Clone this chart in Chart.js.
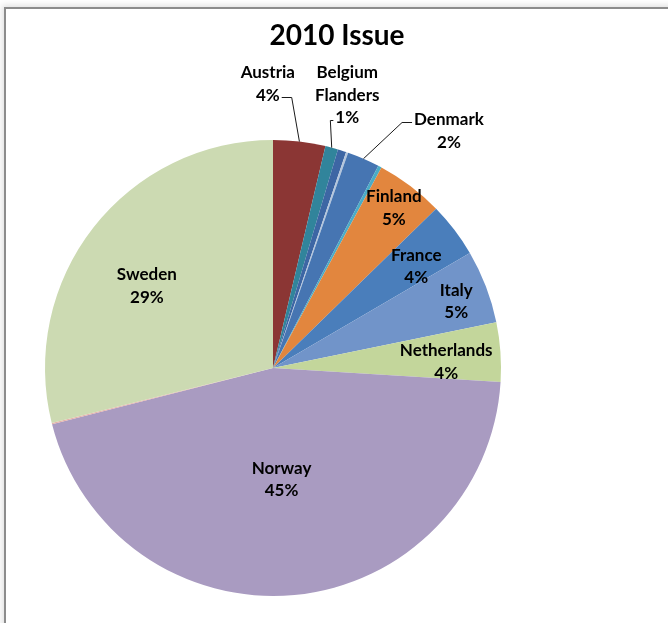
<!DOCTYPE html>
<html>
<head>
<meta charset="utf-8">
<title>2010 Issue</title>
<script src="https://cdn.jsdelivr.net/npm/chart.js@4"></script>
<style>
  body { margin: 0; background: #fff; }
  #wrap { position: relative; width: 668px; height: 623px; overflow: hidden; }
  #frame {
    position: absolute; left: 4px; top: 7px; width: 700px; height: 650px;
    border-top: 2px solid #8c8c8c; border-left: 2px solid #8c8c8c;
    box-shadow: -2px -2px 6px rgba(0, 0, 0, 0.12);
  }
  canvas { position: absolute; left: 0; top: 0; }
</style>
</head>
<body>
<div id="wrap">
  <div id="frame"></div>
  <canvas id="pie" width="668" height="623"></canvas>
</div>
<script>
const title = "2010 Issue";

// share per country, clockwise from 12 o'clock; unnamed slices carry no label
const countries = [
  "Austria", "Belgium Flanders", "", "", "Denmark", "", "Finland",
  "France", "Italy", "Netherlands", "Norway", "", "Sweden",
];
const shares = [3.7, 0.9, 0.6, 0.15, 2.3, 0.25, 4.8, 3.9, 5.2, 4.2, 45.1, 0.1, 28.9];
const sliceColors = [
  "#8b3634", "#31849b", "#3d66a4", "#b4c6dc", "#4675b2", "#4bacc6", "#e2863e",
  "#4a7ebb", "#7194c9", "#c3d69b", "#a99bc1", "#e6b1a9", "#ccdab2",
];

// where each label sits: r = fraction of radius, da = degrees off the slice middle
const labelPlacement = [
  { r: 1.245, da: -7.7, leader: { line: 1, side: "right", stub: 10 } },
  { r: 1.24, da: 0.3, leader: { line: 2, side: "left", stub: 3 } },
  null, null,
  { r: 1.295, da: 13.2, leader: { line: 0, side: "left", stub: 10 } },
  null,
  { r: 0.88, da: 0 },
  { r: 0.77, da: 2 },
  { r: 0.855, da: 1 },
  { r: 0.76, da: 2 },
  { r: 0.49, da: 1 },
  null,
  { r: 0.66, da: -5 },
];

const sliceLabels = {
  id: "sliceLabels",
  afterDatasetsDraw(chart, args, opts) {
    const ctx = chart.ctx;
    const meta = chart.getDatasetMeta(0);
    const total = shares.reduce((a, b) => a + b, 0);
    ctx.save();
    ctx.fillStyle = "#000";
    ctx.strokeStyle = "#1a1a1a";
    ctx.lineWidth = 1;
    ctx.textAlign = "center";
    ctx.textBaseline = "middle";
    ctx.font = "bold 17px Lato";
    meta.data.forEach((arc, i) => {
      const place = opts.placement[i];
      if (!place || !countries[i]) return;
      const { x, y, startAngle, endAngle, outerRadius } =
        arc.getProps(["x", "y", "startAngle", "endAngle", "outerRadius"], true);
      const mid = (startAngle + endAngle) / 2;
      const a = mid + place.da * Math.PI / 180;
      const cx = x + Math.cos(a) * outerRadius * place.r;
      const cy = y + Math.sin(a) * outerRadius * place.r;
      const pct = Math.round(shares[i] / total * 100);
      const lines = countries[i].split(" ").concat(pct + "%");
      const lh = opts.lineHeight;
      const top = cy - (lines.length - 1) * lh / 2;
      lines.forEach((t, k) => ctx.fillText(t, cx, top + k * lh));

      if (place.leader) {
        const k = place.leader.line;
        const ly = Math.round(top + k * lh + 2) + 0.5;
        const w = ctx.measureText(lines[k]).width;
        const dir = place.leader.side === "right" ? 1 : -1;
        const edge = cx + dir * (w / 2 + 2);
        const elbow = edge + dir * place.leader.stub;
        ctx.beginPath();
        ctx.moveTo(edge, ly);
        ctx.lineTo(elbow, ly);
        ctx.lineTo(x + Math.cos(mid) * outerRadius, y + Math.sin(mid) * outerRadius);
        ctx.stroke();
      }
    });

    // chart heading, centred over the whole framed area
    ctx.font = "bold 28px Lato";
    ctx.fillText(title, chart.width / 2 + 3, 36);
    ctx.restore();
  },
};

new Chart(document.getElementById("pie"), {
  type: "pie",
  data: {
    labels: countries,
    datasets: [{
      data: shares,
      backgroundColor: sliceColors,
      borderWidth: 0,
    }],
  },
  options: {
    responsive: false,
    animation: false,
    layout: { padding: { left: 45, right: 167, top: 140, bottom: 27 } },
    plugins: {
      legend: { display: false },
      tooltip: { enabled: false },
      title: { display: false },
      sliceLabels: { placement: labelPlacement, lineHeight: 22.5 },
    },
  },
  plugins: [sliceLabels],
});
</script>
</body>
</html>
